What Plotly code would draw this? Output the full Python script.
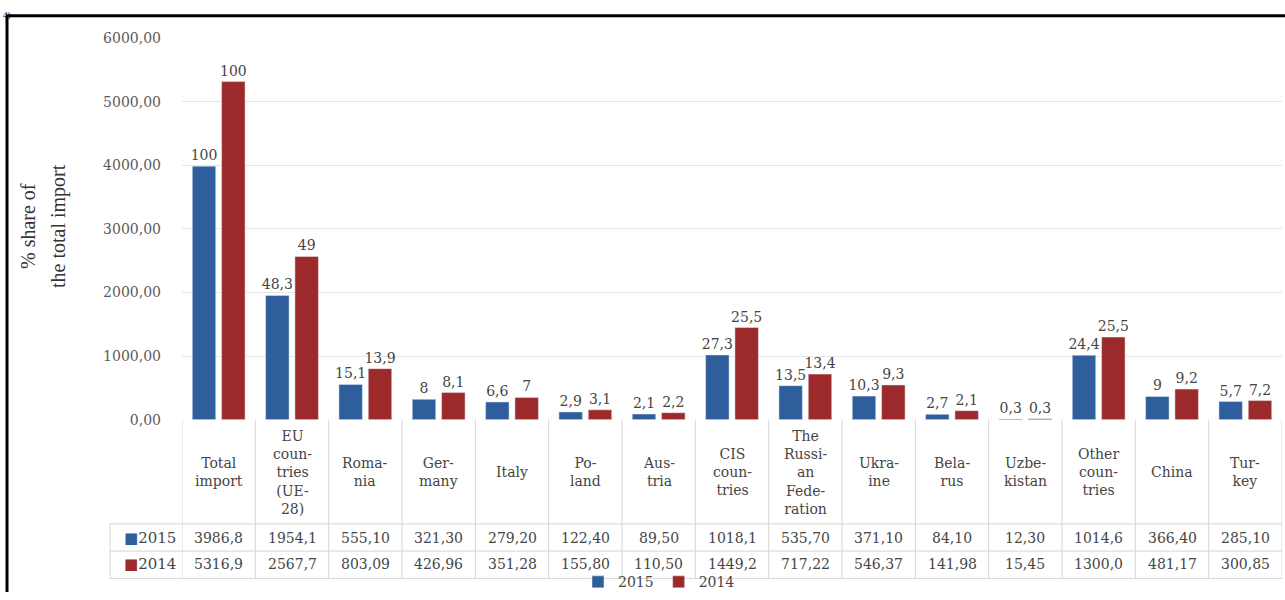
import plotly.graph_objects as go

# Import structure by partner, thousand USD, with the share of total import (%)
categories = ["Total import", "EU countries (UE-28)", "Romania", "Germany", "Italy",
              "Poland", "Austria", "CIS countries", "The Russian Federation", "Ukraine",
              "Belarus", "Uzbekistan", "Other countries", "China", "Turkey"]
header_labels = ["Total<br>import", "EU<br>coun-<br>tries<br>(UE-<br>28)", "Roma-<br>nia",
                 "Ger-<br>many", "Italy", "Po-<br>land", "Aus-<br>tria", "CIS<br>coun-<br>tries",
                 "The<br>Russi-<br>an<br>Fede-<br>ration", "Ukra-<br>ine", "Bela-<br>rus",
                 "Uzbe-<br>kistan", "Other<br>coun-<br>tries", "China", "Tur-<br>key"]
values_2015 = [3986.8, 1954.1, 555.10, 321.30, 279.20, 122.40, 89.50, 1018.1, 535.70,
               371.10, 84.10, 12.30, 1014.6, 366.40, 285.10]
values_2014 = [5316.9, 2567.7, 803.09, 426.96, 351.28, 155.80, 110.50, 1449.2, 717.22,
               546.37, 141.98, 15.45, 1300.0, 481.17, 300.85]
share_2015 = [100, 48.3, 15.1, 8, 6.6, 2.9, 2.1, 27.3, 13.5, 10.3, 2.7, 0.3, 24.4, 9, 5.7]
share_2014 = [100, 49, 13.9, 8.1, 7, 3.1, 2.2, 25.5, 13.4, 9.3, 2.1, 0.3, 25.5, 9.2, 7.2]
y_ticks = [0, 1000, 2000, 3000, 4000, 5000, 6000]

W, H = 1285, 600
BLUE = "#2F5E9C"
RED = "#9C2A2A"
SERIF = "DejaVu Serif"
TXT = "#454545"
LINE = "#d6d6d6"


def fx(px):
    return px / W


def fy(py):
    return 1 - py / H


def share_text(v):
    return f"{v:g}".replace(".", ",")


def table_text(v):
    s = f"{v:.1f}" if v >= 1000 else f"{v:.2f}"
    return s.replace(".", ",")


fig = go.Figure()
for name, vals, shares, color in [("2015", values_2015, share_2015, BLUE),
                                  ("2014", values_2014, share_2014, RED)]:
    fig.add_trace(go.Bar(
        x=categories, y=vals, name=name, marker_color=color,
        text=[share_text(s) for s in shares], textposition="outside",
        textfont=dict(family=SERIF, size=14, color=TXT),
        constraintext="none", cliponaxis=False, hoverinfo="skip",
    ))

shapes = []
# frame around the figure
shapes.append(dict(type="line", xref="paper", yref="paper", x0=fx(6), x1=1,
                   y0=fy(8), y1=fy(8), line=dict(color="black", width=3)))
shapes.append(dict(type="line", xref="paper", yref="paper", x0=fx(7), x1=fx(7),
                   y0=fy(8), y1=0, line=dict(color="black", width=3)))
# data table grid under the plot
for i in range(len(categories) + 1):
    shapes.append(dict(type="line", xref="x", yref="paper", x0=i - 0.5, x1=i - 0.5,
                       y0=fy(423), y1=fy(586), line=dict(color=LINE, width=1)))
for py in (530, 558, 586):
    shapes.append(dict(type="line", xref="paper", yref="paper", x0=fx(110), x1=fx(1282),
                       y0=fy(py), y1=fy(py), line=dict(color=LINE, width=1)))
shapes.append(dict(type="line", xref="paper", yref="paper", x0=fx(110), x1=fx(110),
                   y0=fy(530), y1=fy(586), line=dict(color=LINE, width=1)))

annotations = []
for cat, lab, v15, v14 in zip(categories, header_labels, values_2015, values_2014):
    annotations.append(dict(x=cat, xref="x", y=fy(477), yref="paper", text=lab,
                            showarrow=False, align="center", yanchor="middle",
                            font=dict(family=SERIF, size=14, color=TXT)))
    annotations.append(dict(x=cat, xref="x", y=fy(545), yref="paper", text=table_text(v15),
                            showarrow=False, yanchor="middle",
                            font=dict(family=SERIF, size=14, color=TXT)))
    annotations.append(dict(x=cat, xref="x", y=fy(571), yref="paper", text=table_text(v14),
                            showarrow=False, yanchor="middle",
                            font=dict(family=SERIF, size=14, color=TXT)))
for name, color, py in [("2015", BLUE, 545), ("2014", RED, 571)]:
    annotations.append(dict(x=fx(178), xref="paper", y=fy(py), yref="paper",
                            xanchor="right", yanchor="middle", showarrow=False,
                            text=f'<span style="color:{color}">■</span>{name}',
                            font=dict(family=SERIF, size=15, color=TXT)))
# vertical axis title, two lines
for text, px in [("% share of", 28), ("the total import", 58)]:
    annotations.append(dict(x=fx(px), xref="paper", y=fy(224), yref="paper",
                            text=text, textangle=-90, showarrow=False,
                            xanchor="center", yanchor="middle",
                            font=dict(family="Liberation Serif", size=20, color="#333333")))
annotations.append(dict(x=fx(1), xref="paper", y=1, yref="paper", text="4)",
                        showarrow=False, xanchor="left", yanchor="top",
                        font=dict(family="Liberation Serif", size=9, color="black")))

fig.update_layout(
    width=W, height=H,
    margin=dict(l=0, r=0, t=0, b=0),
    paper_bgcolor="white", plot_bgcolor="white",
    separators=",.",
    barmode="group", bargap=0.2, bargroupgap=0.2,
    font=dict(family=SERIF, color=TXT),
    xaxis=dict(domain=[fx(182), fx(1282)], range=[-0.5, len(categories) - 0.5],
               showticklabels=False, showgrid=False, zeroline=False, showline=False),
    yaxis=dict(domain=[fy(423), fy(31)], range=[0, 6000], tickvals=y_ticks,
               tickformat=".2f", showgrid=True, gridcolor="#e6e6e6", gridwidth=1,
               zeroline=False, showline=False, ticks="", ticklabelstandoff=20,
               tickfont=dict(family=SERIF, size=14, color="#5a5a5a")),
    showlegend=True,
    legend=dict(orientation="h", x=fx(659), xanchor="center", y=fy(590), yanchor="middle",
                font=dict(family=SERIF, size=14, color=TXT), itemwidth=30,
                bgcolor="rgba(0,0,0,0)", tracegroupgap=0),
    shapes=shapes,
    annotations=annotations,
)

fig.write_html("out.html")
